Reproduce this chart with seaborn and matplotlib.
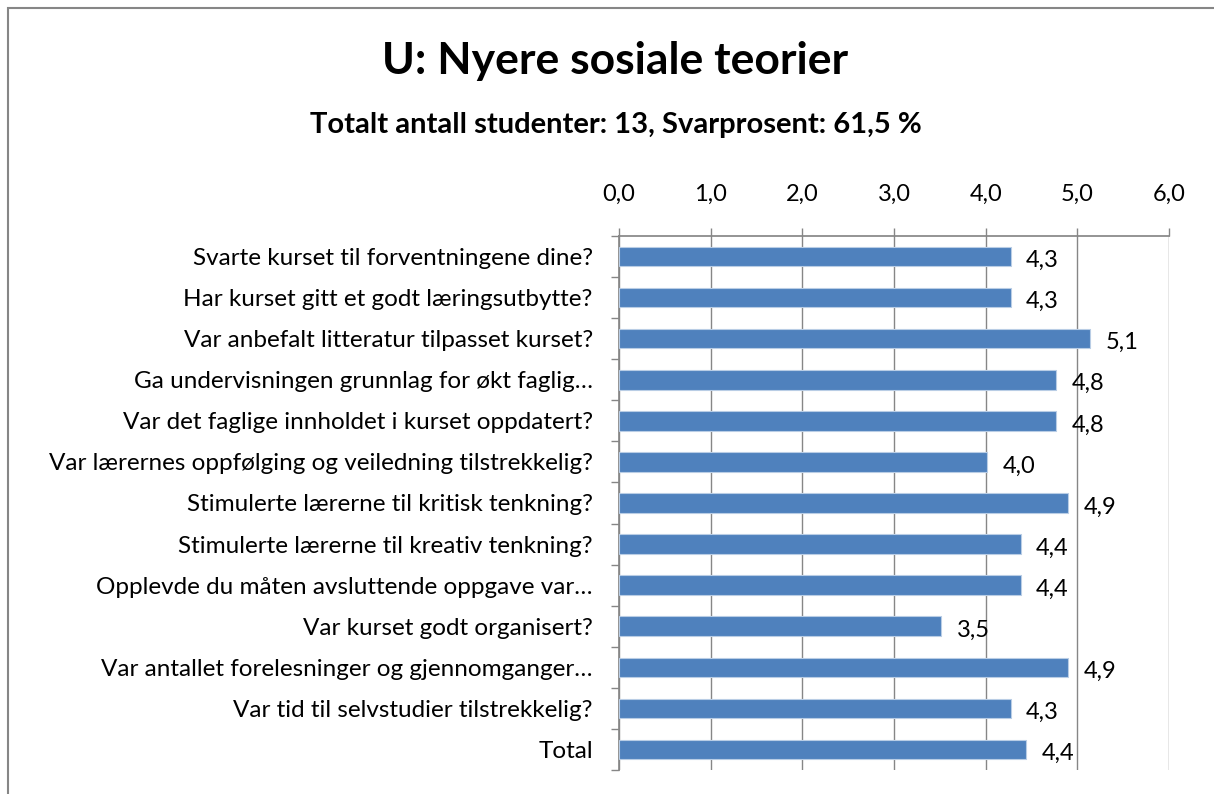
import matplotlib
matplotlib.use("Agg")
import matplotlib.pyplot as plt
import numpy as np
import pandas as pd
import seaborn as sns
from matplotlib.patches import Rectangle

# survey questions (top to bottom) and mean scores
questions = [
    "Svarte kurset til forventningene dine?",
    "Har kurset gitt et godt læringsutbytte?",
    "Var anbefalt litteratur tilpasset kurset?",
    "Ga undervisningen grunnlag for økt faglig…",
    "Var det faglige innholdet i kurset oppdatert?",
    "Var lærernes oppfølging og veiledning tilstrekkelig?",
    "Stimulerte lærerne til kritisk tenkning?",
    "Stimulerte lærerne til kreativ tenkning?",
    "Opplevde du måten avsluttende oppgave var…",
    "Var kurset godt organisert?",
    "Var antallet forelesninger og gjennomganger…",
    "Var tid til selvstudier tilstrekkelig?",
    "Total",
]
scores = [4.27, 4.27, 5.14, 4.77, 4.77, 4.01, 4.9, 4.38, 4.38, 3.51, 4.9, 4.27, 4.44]
x_ticks = [0, 1, 2, 3, 4, 5, 6]

df = pd.DataFrame({"question": questions, "score": scores})

sns.set_theme(style="white")
plt.rcParams["font.family"] = ["Lato", "DejaVu Sans"]
plt.rcParams["text.color"] = "black"
plt.rcParams["xtick.color"] = "black"
plt.rcParams["ytick.color"] = "black"

fig = plt.figure(figsize=(12.14, 7.94), dpi=100)
ax = fig.add_axes([0.51, 0.03, 0.453, 0.673])

sns.barplot(data=df, x="score", y="question", orient="h", color="#4F81BD",
            width=0.48, saturation=1, edgecolor="#B9CDE5", linewidth=0.8,
            ax=ax, zorder=3)

ax.set_xlim(0, 6)
ax.set_ylim(len(questions) - 0.5, -0.5)
ax.set_xlabel("")
ax.set_ylabel("")

# x axis on top
ax.xaxis.tick_top()
ax.set_xticks(x_ticks)
ax.set_xticklabels([f"{t:.1f}".replace(".", ",") for t in x_ticks], fontsize=17)
ax.tick_params(axis="x", length=6, color="#868686", width=1, pad=16)
ax.grid(axis="x", color="#868686", linewidth=1, zorder=0)

# y labels at centres, tick marks at category boundaries
ax.set_yticks(range(len(questions)))
ax.set_yticklabels(questions, fontsize=17.5)
ax.tick_params(axis="y", length=0, pad=19)
ax.set_yticks(np.arange(-0.5, len(questions)), minor=True)
ax.tick_params(axis="y", which="minor", length=6, color="#868686", width=1, left=True)

for side in ["right", "bottom"]:
    ax.spines[side].set_visible(False)
ax.spines["left"].set_color("#868686")
ax.spines["top"].set_color("#868686")

for i, v in enumerate(scores):
    ax.text(v + 0.17, i + 0.1, f"{v:.1f}".replace(".", ","), va="center",
            ha="left", fontsize=17, clip_on=False)

fig.text(0.507, 0.923, "U: Nyere sosiale teorier", ha="center", va="center",
         fontsize=32, fontweight="bold")
fig.text(0.507, 0.842, "Totalt antall studenter: 13, Svarprosent: 61,5 %",
         ha="center", va="center", fontsize=21, fontweight="bold")

# chart area border
fig.patches.append(Rectangle((8 / 1214, -0.1), 1.2, 1 - 8 / 794 + 0.1,
                             transform=fig.transFigure, fill=False,
                             edgecolor="#868686", linewidth=1.5))

fig.savefig("out.png", dpi=100)
